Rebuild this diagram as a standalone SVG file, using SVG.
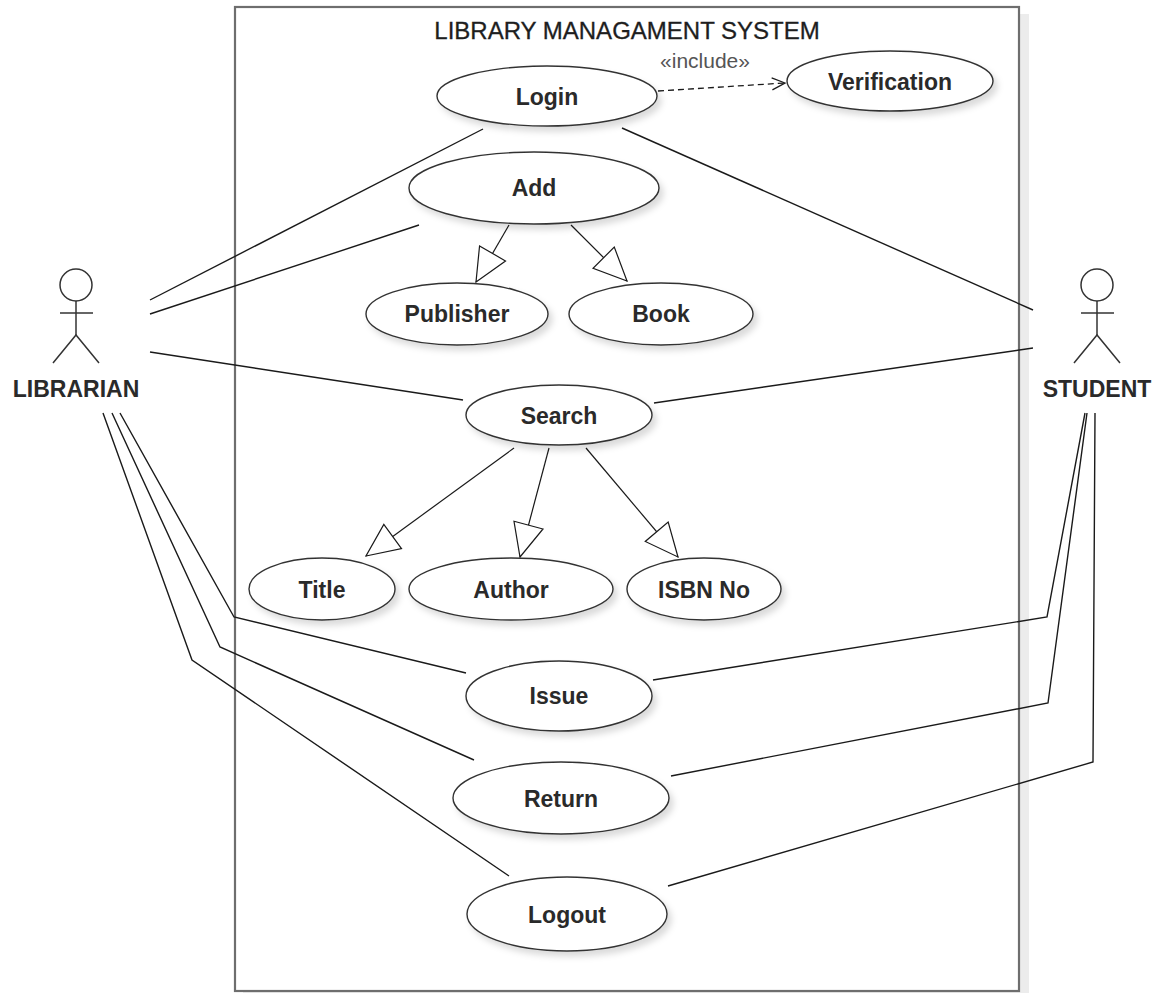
<svg xmlns="http://www.w3.org/2000/svg" width="1160" height="993" viewBox="0 0 1160 993">
<style>
.uc{fill:#fff;stroke:#333;stroke-width:1.4;filter:url(#sh)}
.ut{font-family:"Liberation Sans",Arial,sans-serif;font-size:23px;font-weight:bold;fill:#2a2a2a;text-anchor:middle}
.ln{fill:none;stroke:#1a1a1a;stroke-width:1.4}
.gen{fill:none;stroke:#1a1a1a;stroke-width:1.2;marker-end:url(#tri)}
.act{fill:none;stroke:#333;stroke-width:1.5}
</style>
<defs>
<filter id="sh" x="-20%" y="-20%" width="140%" height="160%">
<feDropShadow dx="4" dy="5" stdDeviation="3" flood-color="#000" flood-opacity="0.14"/>
</filter>
<marker id="tri" markerUnits="userSpaceOnUse" viewBox="-36 -17 38 34" refX="0" refY="0" markerWidth="38" markerHeight="34" orient="auto">
<path d="M0,0 L-33,-15 L-33,15 Z" fill="#fff" stroke="#1a1a1a" stroke-width="1.2"/>
</marker>
<marker id="open" markerUnits="userSpaceOnUse" viewBox="-16 -9 18 18" refX="0" refY="0" markerWidth="18" markerHeight="18" orient="auto">
<path d="M-13,-6 L0,0 L-13,6" fill="none" stroke="#1a1a1a" stroke-width="1.3"/>
</marker>
</defs>
<rect width="1160" height="993" fill="#fff"/>
<g id="system">
<rect x="243" y="14" width="786" height="990" fill="#ececec"/>
<rect x="235" y="7" width="784" height="984" fill="#fff" stroke="#6e6e6e" stroke-width="2.2"/>
<text x="627" y="39" font-family="Liberation Sans,Arial,sans-serif" font-size="24" fill="#1e1e1e" stroke="#1e1e1e" stroke-width="0.3" text-anchor="middle">LIBRARY MANAGAMENT SYSTEM</text>
</g>
<g id="connectors">
<line class="ln" x1="150" y1="300" x2="483" y2="129"/>
<line class="ln" x1="150" y1="314" x2="419" y2="225"/>
<line class="ln" x1="150" y1="352" x2="463" y2="400"/>
<polyline class="ln" points="120,413 234,617 466,673"/>
<polyline class="ln" points="112,413 220,647 474,760"/>
<polyline class="ln" points="103,413 192,660 509,876"/>
<line class="ln" x1="622" y1="128" x2="1033" y2="310"/>
<line class="ln" x1="654" y1="403" x2="1033" y2="348"/>
<polyline class="ln" points="1085,413 1047,617 653,680"/>
<polyline class="ln" points="1087,413 1048,703 671,776"/>
<polyline class="ln" points="1095,413 1093,762 668,886"/>
<line class="gen" x1="509" y1="225" x2="476" y2="282"/>
<line class="gen" x1="571" y1="225" x2="627" y2="281"/>
<line class="gen" x1="514" y1="448" x2="366" y2="556"/>
<line class="gen" x1="549" y1="448" x2="520" y2="557"/>
<line class="gen" x1="586" y1="448" x2="678" y2="557"/>
<line x1="658" y1="91" x2="785" y2="83" fill="none" stroke="#1a1a1a" stroke-width="1.3" stroke-dasharray="6,4" marker-end="url(#open)"/>
<text x="705" y="68" font-family="Liberation Sans,Arial,sans-serif" font-size="21" fill="#555" text-anchor="middle">«include»</text>
</g>
<g id="librarian">
<circle class="act" cx="76" cy="285" r="16"/>
<line class="act" x1="60" y1="313" x2="93" y2="313"/>
<line class="act" x1="76" y1="301" x2="76" y2="335"/>
<polyline class="act" points="53,363 76,335 99,363"/>
<text class="ut" x="76" y="397">LIBRARIAN</text>
</g>
<g id="student">
<circle class="act" cx="1097" cy="285" r="16"/>
<line class="act" x1="1081" y1="313" x2="1114" y2="313"/>
<line class="act" x1="1097" y1="301" x2="1097" y2="335"/>
<polyline class="act" points="1074,363 1097,335 1120,363"/>
<text class="ut" x="1097" y="397">STUDENT</text>
</g>
<g id="login"><ellipse class="uc" cx="547" cy="96" rx="110" ry="30"/><text class="ut" x="547" y="105">Login</text></g>
<g id="verification"><ellipse class="uc" cx="890" cy="81" rx="103" ry="30"/><text class="ut" x="890" y="90">Verification</text></g>
<g id="add"><ellipse class="uc" cx="534" cy="188" rx="125" ry="36"/><text class="ut" x="534" y="196">Add</text></g>
<g id="publisher"><ellipse class="uc" cx="457" cy="314" rx="91" ry="31"/><text class="ut" x="457" y="322">Publisher</text></g>
<g id="book"><ellipse class="uc" cx="661" cy="314" rx="92" ry="31"/><text class="ut" x="661" y="322">Book</text></g>
<g id="search"><ellipse class="uc" cx="559" cy="415" rx="93" ry="30"/><text class="ut" x="559" y="424">Search</text></g>
<g id="title"><ellipse class="uc" cx="322" cy="589" rx="73" ry="31"/><text class="ut" x="322" y="598">Title</text></g>
<g id="author"><ellipse class="uc" cx="511" cy="589" rx="102" ry="31"/><text class="ut" x="511" y="598">Author</text></g>
<g id="isbn"><ellipse class="uc" cx="704" cy="589" rx="77" ry="31"/><text class="ut" x="704" y="598">ISBN No</text></g>
<g id="issue"><ellipse class="uc" cx="559" cy="696" rx="93" ry="35"/><text class="ut" x="559" y="704">Issue</text></g>
<g id="return"><ellipse class="uc" cx="561" cy="798" rx="108" ry="36"/><text class="ut" x="561" y="807">Return</text></g>
<g id="logout"><ellipse class="uc" cx="567" cy="914" rx="100" ry="37"/><text class="ut" x="567" y="923">Logout</text></g>
</svg>
